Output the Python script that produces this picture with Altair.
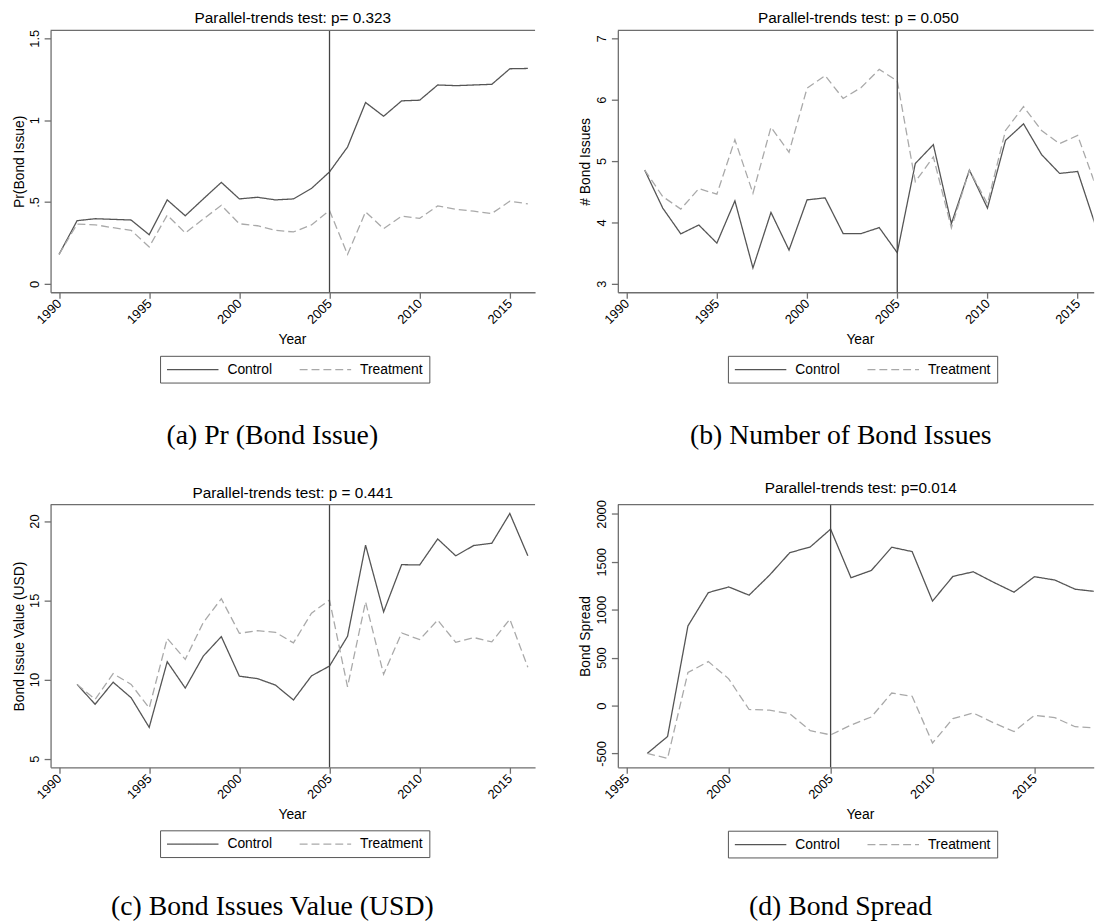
import altair as alt
import pandas as pd

# ---------------- data ----------------
groups = ["Control", "Treatment"]
line_colors = ["#555555", "#a9a9a9"]
line_dashes = [[1, 0], [8, 4]]
event_year = [2005]

years_a = list(range(1990, 2017))
control_a = [0.18, 0.386, 0.398, 0.394, 0.39, 0.30, 0.513, 0.416, 0.519, 0.62,
             0.519, 0.529, 0.513, 0.519, 0.583, 0.684, 0.836, 1.108, 1.024, 1.118,
             1.122, 1.215, 1.211, 1.215, 1.219, 1.314, 1.316]
treatment_a = [0.18, 0.365, 0.361, 0.343, 0.327, 0.226, 0.42, 0.311, 0.396, 0.48,
               0.367, 0.355, 0.327, 0.317, 0.36, 0.448, 0.18, 0.44, 0.337, 0.414,
               0.40, 0.476, 0.456, 0.444, 0.43, 0.505, 0.489]

years_b = list(range(1991, 2017))
control_b = [4.852, 4.233, 3.813, 3.958, 3.662, 4.351, 3.258, 4.163, 3.549, 4.367,
             4.40, 3.818, 3.818, 3.915, 3.506, 4.96, 5.267, 3.98, 4.852, 4.233,
             5.336, 5.606, 5.105, 4.798, 4.83, 3.94]
treatment_b = [4.852, 4.421, 4.217, 4.55, 4.459, 5.347, 4.475, 5.552, 5.143, 6.187,
               6.392, 6.02, 6.198, 6.494, 6.306, 4.663, 5.067, 3.91, 4.852, 4.303,
               5.498, 5.886, 5.498, 5.283, 5.417, 4.6]

years_c = list(range(1991, 2017))
control_c = [9.69, 8.44, 9.83, 8.85, 6.98, 11.125, 9.46, 11.48, 12.71, 10.21,
             10.06, 9.65, 8.71, 10.23, 10.85, 12.73, 18.48, 14.27, 17.25, 17.23,
             18.875, 17.81, 18.46, 18.6, 20.48, 17.81]
treatment_c = [9.69, 8.75, 10.375, 9.69, 8.2, 12.6, 11.27, 13.6, 15.1, 12.92,
               13.08, 12.98, 12.31, 14.19, 15.02, 9.54, 14.9, 10.33, 12.94, 12.52,
               13.75, 12.35, 12.65, 12.375, 13.81, 10.77]

years_d = list(range(1996, 2019))
control_d = [-500, -323, 831, 1179, 1238, 1152, 1360, 1596, 1655, 1841, 1334, 1410,
             1652, 1607, 1090, 1348, 1396, 1286, 1183, 1345, 1310, 1214, 1190]
treatment_d = [-500, -551, 345, 459, 279, -41, -48, -85, -262, -306, -204, -119,
               131, 97, -391, -136, -78, -180, -272, -102, -126, -221, -233]

titles = ["Parallel-trends test: p= 0.323", "Parallel-trends test: p = 0.050",
          "Parallel-trends test: p = 0.441", "Parallel-trends test: p=0.014"]
y_titles = ["Pr(Bond Issue)", "# Bond Issues", "Bond Issue Value (USD)", "Bond Spread"]
captions = ["(a) Pr (Bond Issue)", "(b) Number of Bond Issues",
            "(c) Bond Issues Value (USD)", "(d) Bond Spread"]
yticks_a = [0, 0.5, 1, 1.5]
yticks_b = [3, 4, 5, 6, 7]
yticks_c = [5, 10, 15, 20]
yticks_d = [-500, 0, 500, 1000, 1500, 2000]
xticks_abc = [1990, 1995, 2000, 2005, 2010, 2015]
xticks_d = [1995, 2000, 2005, 2010, 2015]

SANS = "Liberation Sans"
SERIF = "Liberation Serif"
FRAME = "#6e6e6e"


def panel(years, ctrl, treat, title, title_dx, ytitle, ytitle_x, yticks, ydomain,
          xticks, xdomain, width, height, legend_x, legend_y, caption, cap_x, cap_y,
          xtitle_x, yformat, ylabel_expr=None):
    df = pd.DataFrame({
        "year": years + years,
        "value": ctrl + treat,
        "group": ["Control"] * len(years) + ["Treatment"] * len(years),
    })
    leg = alt.Legend(orient="none", legendX=legend_x, legendY=legend_y,
                     direction="horizontal", title=None,
                     symbolType="M-1,0L6.43,0", symbolSize=196,
                     symbolStrokeWidth=1.3, labelFont=SANS,
                     labelFontSize=14, labelColor="black", labelOffset=46,
                     columnPadding=24, padding=6, strokeColor="#555555",
                     fillColor="white", cornerRadius=0)
    xscale = alt.Scale(domain=xdomain, nice=False, zero=False)
    yscale = alt.Scale(domain=ydomain, nice=False, zero=False)
    yargs = dict(values=yticks, format=yformat, labelAngle=270, labelAlign="center",
                 labelBaseline="alphabetic", tickSize=6.5, labelPadding=5.5,
                 title=ytitle, titleX=ytitle_x, titleBaseline="middle", grid=False,
                 labelOverlap=False, labelFlush=False)
    if ylabel_expr:
        yargs["labelExpr"] = ylabel_expr
    yaxis = alt.Axis(**yargs)
    xaxis = alt.Axis(values=xticks, format="d", labelAngle=315, labelAlign="right",
                     labelBaseline="middle", tickSize=6, labelPadding=3, title="Year",
                     titleX=xtitle_x, titleY=52, titleBaseline="alphabetic",
                     grid=False, labelOverlap=False, labelFlush=False)
    lines = alt.Chart(df).mark_line(strokeWidth=1.3, clip=True).encode(
        x=alt.X("year:Q", scale=xscale, axis=xaxis),
        y=alt.Y("value:Q", scale=yscale, axis=yaxis),
        color=alt.Color("group:N", scale=alt.Scale(domain=groups, range=line_colors),
                        legend=leg),
        strokeDash=alt.StrokeDash("group:N",
                                  scale=alt.Scale(domain=groups, range=line_dashes),
                                  legend=leg),
    )
    rule = alt.Chart(pd.DataFrame({"year": event_year})).mark_rule(
        color="#444444", strokeWidth=1.3).encode(
        x=alt.X("year:Q", scale=xscale, axis=xaxis))
    # top frame line, at the upper end of the y scale
    top = alt.Chart(pd.DataFrame({"value": [ydomain[1]]})).mark_rule(
        color=FRAME, strokeWidth=1.3).encode(
        y=alt.Y("value:Q", scale=yscale, axis=yaxis))
    cap = alt.Chart(pd.DataFrame({"caption": [caption]})).mark_text(
        font=SERIF, fontSize=28, align="center", baseline="middle", color="black"
    ).encode(text="caption:N", x=alt.value(cap_x), y=alt.value(cap_y))
    return alt.layer(lines, rule, top, cap).properties(
        width=width, height=height,
        title=alt.TitleParams(title, dx=title_dx, offset=-9, baseline="alphabetic"))


pa = panel(years_a, control_a, treatment_a, titles[0], 0, y_titles[0], -31.6,
           yticks_a, [-0.0514, 1.5484], xticks_abc, [1989.53, 2016.4], 489.4, 264.5,
           110.6, 328.7, captions[0], 224, 410, 243.8, ".1~f",
           ylabel_expr="datum.value == 0.5 ? '.5' : datum.label")
pb = panel(years_b, control_b, treatment_b, titles[1], 2.7, y_titles[1], -33,
           yticks_b, [2.861, 7.129], xticks_abc, [1989.51, 2015.89], 480.7, 264.5,
           111.2, 328.7, captions[1], 225.2, 410, 244.5, "d")
pc = panel(years_c, control_c, treatment_c, titles[2], 0, y_titles[2], -31.6,
           yticks_c, [4.456, 21.04], xticks_abc, [1989.53, 2016.4], 489.4, 265.4,
           110.6, 329, captions[2], 224, 407, 243.8, "d")
pd_ = panel(years_d, control_d, treatment_d, titles[3], 5, y_titles[3], -33,
            yticks_d, [-645, 2097], xticks_d, [1994.56, 2017.91], 480.7, 265.4,
            111.2, 329.4, captions[3], 225, 407, 244.5, "d",
            ylabel_expr="replace(datum.label, '\u2212', '-')")

indep = dict(color="independent", strokeDash="independent")
row1 = alt.hconcat(pa, pb, spacing=42).resolve_scale(**indep).resolve_legend(**indep)
row2 = alt.hconcat(pc, pd_, spacing=42).resolve_scale(**indep).resolve_legend(**indep)
chart = alt.vconcat(row1, row2, spacing=31).resolve_scale(**indep).resolve_legend(
    **indep
).properties(
    padding={"left": 4, "top": -2, "right": 0, "bottom": 0}
).configure_view(stroke=None).configure_axis(
    labelFont=SANS, titleFont=SANS, labelFontSize=13, titleFontSize=14,
    labelColor="black", titleColor="black", titleFontWeight="normal",
    domainColor=FRAME, tickColor=FRAME, domainWidth=1.3, tickWidth=1.3
).configure_title(
    font=SANS, fontSize=15.5, fontWeight="normal", color="black", anchor="middle"
)

chart.save("out.html", embed_options={"renderer": "svg", "actions": False})
